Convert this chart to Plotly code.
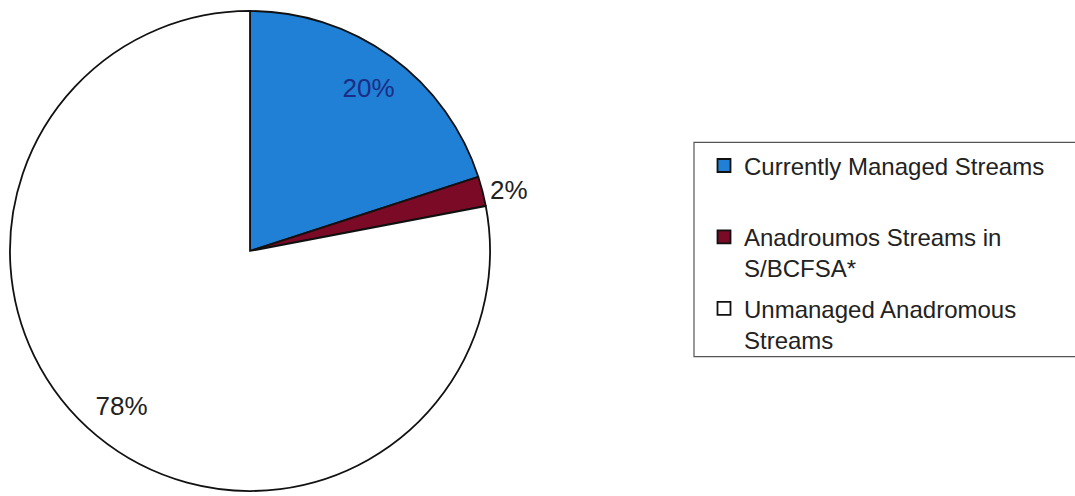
import plotly.graph_objects as go

categories = ["Currently Managed Streams",
              "Anadroumos Streams in<br>S/BCFSA*",
              "Unmanaged Anadromous<br>Streams"]
legend_labels = ["Currently Managed Streams<br> ",
                 "Anadroumos Streams in<br>S/BCFSA*",
                 "Unmanaged Anadromous<br>Streams"]
values = [20, 2, 78]
colors = ["#1F80D5", "#7A0A25", "#FFFFFF"]
text_positions = ["inside", "outside", "inside"]
text_colors = ["#1C2C86", "#222222", "#222222"]

FONT = "Liberation Sans, Arial"
W, H = 1075, 496
pie_domain = dict(x=[9 / W, 491 / W], y=[3 / H, 485 / H])

# Base pie: filled slices with outlines
fig = go.Figure(go.Pie(
    labels=categories,
    values=values,
    sort=False,
    direction="clockwise",
    rotation=0,
    textinfo="none",
    marker=dict(colors=colors, line=dict(color="#111111", width=1.8)),
    domain=pie_domain,
    showlegend=False,
    hoverinfo="label+percent",
))

# Text-only overlay (donut geometry pushes the percentage labels outward)
fig.add_trace(go.Pie(
    labels=categories,
    values=values,
    sort=False,
    direction="clockwise",
    rotation=0,
    hole=0.68,
    textinfo="percent",
    textposition=text_positions,
    insidetextorientation="horizontal",
    textfont=dict(family=FONT, size=26, color=text_colors),
    marker=dict(colors=["rgba(0,0,0,0)"] * 3, line=dict(width=0)),
    domain=pie_domain,
    showlegend=False,
    hoverinfo="skip",
))

# Legend entries (one group each so they can be spaced like the original)
for i, (lab, col) in enumerate(zip(legend_labels, colors)):
    fig.add_trace(go.Scatter(
        x=[None], y=[None], mode="markers", name=lab,
        legendgroup=f"g{i}",
        marker=dict(symbol="square", size=13, color=col,
                    line=dict(color="#111111", width=1.8)),
        showlegend=True, hoverinfo="skip",
    ))

fig.update_layout(
    width=W, height=H,
    margin=dict(l=0, r=0, t=0, b=0),
    paper_bgcolor="white",
    plot_bgcolor="rgba(0,0,0,0)",
    font=dict(family=FONT, color="#222222"),
    xaxis=dict(visible=False, domain=[0.99, 1]),
    yaxis=dict(visible=False, domain=[0.99, 1]),
    legend=dict(
        x=704 / W, y=1 - 144 / H, xanchor="left", yanchor="top",
        font=dict(family=FONT, size=24, color="#222222"),
        borderwidth=0, bgcolor="rgba(0,0,0,0)",
        valign="top", itemwidth=30, tracegroupgap=6,
        itemclick=False, itemdoubleclick=False,
    ),
    shapes=[dict(type="rect", xref="paper", yref="paper",
                 x0=694 / W, x1=1.02, y0=1 - 358 / H, y1=1 - 143 / H,
                 line=dict(color="#555555", width=1.2), layer="below")],
)

fig.write_html("out.html", config={"displayModeBar": False},
               post_script="document.body.style.margin='0';")
